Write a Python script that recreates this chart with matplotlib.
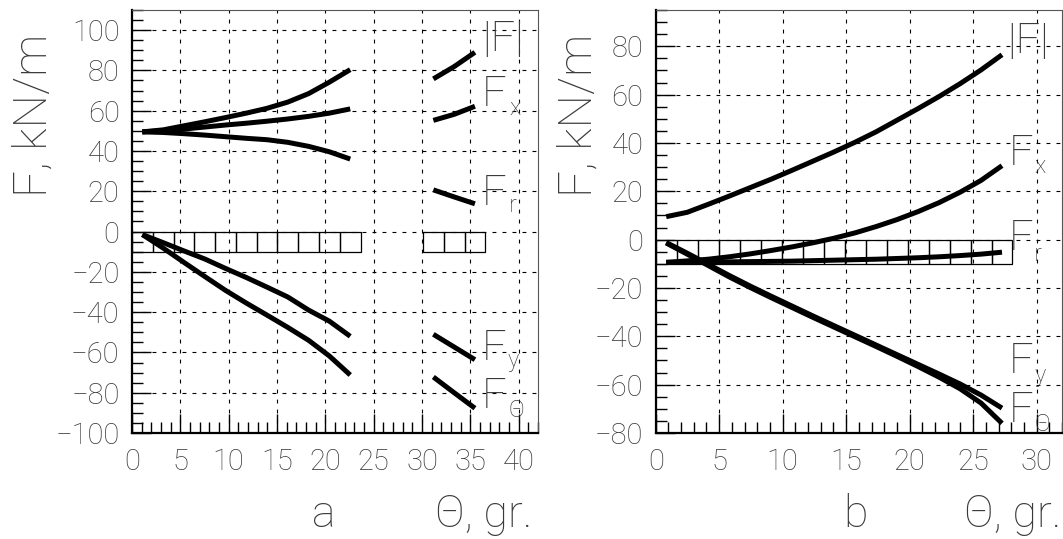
import numpy as np
import matplotlib
matplotlib.use("Agg")
import matplotlib.pyplot as plt
from matplotlib.patches import Rectangle
from matplotlib.ticker import MultipleLocator

plt.rcParams['font.family'] = ['Roboto', 'DejaVu Sans']
plt.rcParams['font.weight'] = 'light'

# panel a: two groups of bins, width 2.15
bin_a = 2.15
theta_a1 = [(i + 0.5) * bin_a for i in range(11)]
theta_a2 = [(i + 0.5) * bin_a for i in range(14, 17)]
Fabs_a1 = [49.5, 50.5, 52.5, 54.5, 56.6, 58.8, 61.2, 64.3, 68.5, 74.2, 80.4]
Fx_a1 = [49.5, 50.0, 50.9, 51.9, 52.9, 53.8, 54.8, 55.9, 57.2, 58.8, 60.9]
Fr_a1 = [49.5, 49.2, 48.6, 47.9, 47.1, 46.3, 45.6, 44.3, 42.3, 39.6, 36.0]
Fy_a1 = [-1.5, -5.5, -9.6, -13.6, -18.3, -22.8, -27.6, -32.5, -39.0, -44.5, -52.0]
Ft_a1 = [-1.5, -8.2, -15.3, -22.3, -29.2, -35.5, -41.5, -47.6, -54.0, -61.8, -71.2]
Fabs_a2 = [75.8, 81.9, 89.0]
Fx_a2 = [55.2, 58.2, 62.2]
Fr_a2 = [20.7, 17.2, 13.8]
Fy_a2 = [-51.0, -57.3, -63.6]
Ft_a2 = [-72.2, -80.0, -87.7]

# panel b: 17 bins, width 1.653
bin_b = 1.653
theta_b = [(i + 0.5) * bin_b for i in range(17)]
Fabs_b = [9.5, 11.3, 14.6, 18.0, 21.5, 25.0, 28.7, 32.5, 36.3, 40.3, 44.6, 49.4, 54.2, 59.2, 64.5, 70.2, 76.5]
Fx_b = [-9.4, -8.8, -8.1, -7.1, -5.9, -4.5, -3.0, -1.3, 0.6, 2.8, 5.4, 8.3, 11.6, 15.3, 19.6, 24.5, 30.6]
Fr_b = [-9.4, -9.4, -9.3, -9.2, -9.1, -9.0, -8.9, -8.7, -8.5, -8.3, -8.1, -7.8, -7.5, -7.1, -6.6, -6.0, -5.2]
Fy_b = [-1.2, -5.6, -10.2, -14.8, -19.2, -23.4, -27.5, -31.6, -35.6, -39.6, -43.6, -47.6, -51.6, -55.6, -59.7, -64.3, -69.7]
Ft_b = [-1.4, -6.0, -10.7, -15.4, -19.8, -24.0, -28.1, -32.2, -36.2, -40.2, -44.2, -48.3, -52.5, -56.9, -61.7, -67.6, -76.0]

tcol = '#3a3a3a'
fig = plt.figure(figsize=(10.63, 5.39), dpi=100)
W, H = 1063.0, 539.0
ax_a = fig.add_axes([132 / W, 1 - 433 / H, (538 - 132) / W, (433 - 10) / H])
ax_b = fig.add_axes([655.7 / W, 1 - 433 / H, (1062 - 655.7) / W, (433 - 10) / H])


def style(ax, xlim, ylim, xmaj, ymaj):
    ax.set_xlim(*xlim)
    ax.set_ylim(*ylim)
    ax.xaxis.set_major_locator(MultipleLocator(xmaj))
    ax.xaxis.set_minor_locator(MultipleLocator(1))
    ax.yaxis.set_major_locator(MultipleLocator(ymaj))
    ax.yaxis.set_minor_locator(MultipleLocator(5))
    ax.tick_params(which='both', direction='in', top=False, right=False, colors='black',
                   labelcolor=tcol, labelsize=21, width=1.0)
    ax.tick_params(which='major', length=14)
    ax.tick_params(which='minor', length=8)
    ax.tick_params(axis='x', pad=11)
    ax.tick_params(axis='y', pad=9)
    ax.grid(True, which='major', color='black', lw=0.8, ls=(0, (3.5, 5.5)))
    ax.set_axisbelow(True)
    for s in ['left', 'bottom']:
        ax.spines[s].set_linewidth(1.6)
    for s in ['top', 'right']:
        ax.spines[s].set_linewidth(0.8)
        ax.spines[s].set_color('#555555')
    ax.yaxis.set_major_formatter(matplotlib.ticker.FuncFormatter(
        lambda v, p: ('\u2212' + '%d' % abs(v)) if v < 0 else '%d' % v))


style(ax_a, (0, 42), (-100, 110), 5, 20)
style(ax_b, (0, 32), (-80, 95), 5, 20)

# bin boxes
for i in list(range(11)) + list(range(14, 17)):
    ax_a.add_patch(Rectangle((i * bin_a, -10), bin_a, 10, fill=False, ec='black', lw=0.9, zorder=2))
for i in range(17):
    ax_b.add_patch(Rectangle((i * bin_b, -10), bin_b, 10, fill=False, ec='black', lw=0.9, zorder=2))

lw = 3.6
for ys in [Fabs_a1, Fx_a1, Fr_a1, Fy_a1, Ft_a1]:
    ax_a.plot(theta_a1, ys, color='black', lw=lw, solid_capstyle='butt', zorder=3)
for ys in [Fabs_a2, Fx_a2, Fr_a2, Fy_a2, Ft_a2]:
    ax_a.plot(theta_a2, ys, color='black', lw=lw, solid_capstyle='butt', zorder=3)
for ys in [Fabs_b, Fx_b, Fr_b, Fy_b, Ft_b]:
    ax_b.plot(theta_b, ys, color='black', lw=lw, solid_capstyle='butt', zorder=3)

big = 31
sub = 17
# curve labels, panel a
ax_a.text(36.2, 89.5, '|F|', fontsize=big, color=tcol)
ax_a.text(36.2, 62.2, 'F', fontsize=big, color=tcol)
ax_a.text(39.0, 58.0, 'x', fontsize=sub, color=tcol)
ax_a.text(36.2, 13.4, 'F', fontsize=big, color=tcol)
ax_a.text(39.0, 9.5, 'r', fontsize=sub, color=tcol)
ax_a.text(36.2, -63.7, 'F', fontsize=big, color=tcol)
ax_a.text(38.8, -67.2, 'y', fontsize=sub, color=tcol)
ax_a.text(36.2, -87.6, 'F', fontsize=big, color=tcol)
ax_a.text(39.0, -92.0, '\u0398', fontsize=sub, color=tcol)
# curve labels, panel b
ax_b.text(27.7, 77.3, '|F|', fontsize=big, color=tcol)
ax_b.text(27.8, 31.0, 'F', fontsize=big, color=tcol)
ax_b.text(29.8, 27.7, 'x', fontsize=sub, color=tcol)
ax_b.text(27.8, -4.1, 'F', fontsize=big, color=tcol)
ax_b.text(29.8, -9.0, 'r', fontsize=sub, color=tcol)
ax_b.text(27.8, -55.0, 'F', fontsize=big, color=tcol)
ax_b.text(29.8, -59.0, 'y', fontsize=sub, color=tcol)
ax_b.text(27.8, -75.6, 'F', fontsize=big, color=tcol)
ax_b.text(29.8, -79.3, '\u0398', fontsize=sub, color=tcol)

# axis titles
fig.text(34 / W, 1 - 115 / H, 'F, kN/m', rotation=90, fontsize=34, color=tcol, ha='center', va='center')
fig.text(579 / W, 1 - 115 / H, 'F, kN/m', rotation=90, fontsize=34, color=tcol, ha='center', va='center')
fig.text(532 / W, 1 - 527 / H, '\u0398, gr.', fontsize=32, color=tcol, ha='right', va='baseline')
fig.text(1061 / W, 1 - 527 / H, '\u0398, gr.', fontsize=32, color=tcol, ha='right', va='baseline')
fig.text(312 / W, 1 - 527 / H, 'a', fontsize=32, color=tcol, ha='left', va='baseline')
fig.text(843 / W, 1 - 527 / H, 'b', fontsize=32, color=tcol, ha='left', va='baseline')

fig.savefig('out.png', dpi=100)
